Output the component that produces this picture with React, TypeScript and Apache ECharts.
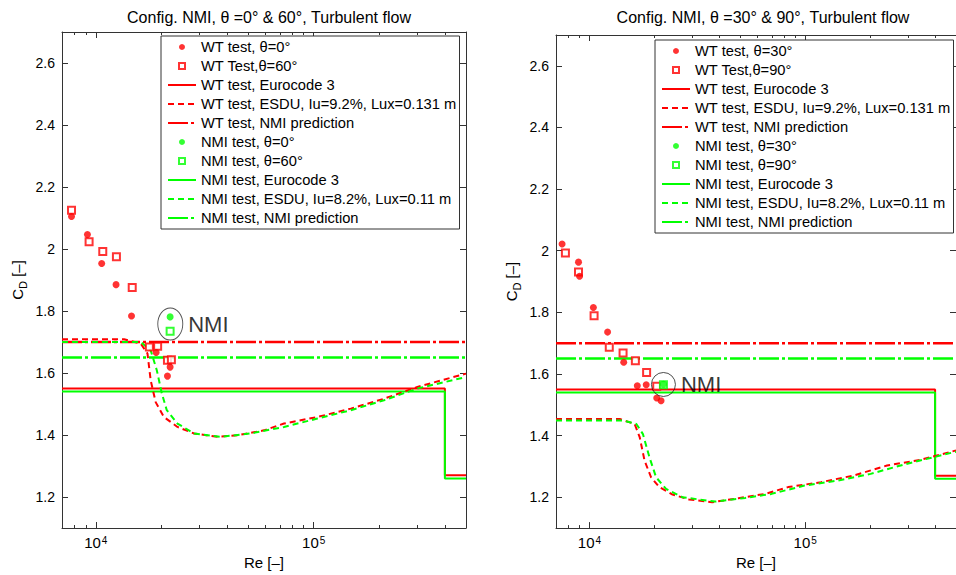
import React, { useEffect, useRef } from 'react';
import * as echarts from 'echarts';

const RED = '#ff0000';
const GREEN = '#00ff00';
const AX = '#333333';
const FONT = '"Liberation Sans", Arial, Helvetica, sans-serif';

const X_MIN = 7000;
const X_MAX = 500000;
const Y_MIN = 1.1;
const Y_MAX = 2.7;
const yTicks = [1.2, 1.4, 1.6, 1.8, 2.0, 2.2, 2.4, 2.6];
const xMajorTicks = [1e4, 1e5];
const xMinorTicks = [8000, 9000, 2e4, 3e4, 4e4, 5e4, 6e4, 7e4, 8e4, 9e4, 2e5, 3e5, 4e5];

// Shared horizontal references
const eurocodeRe = [7000, 400000, 400000, 500000];
const wtEurocodeCd = [1.55, 1.55, 1.27, 1.27];
const nmiEurocodeCd = [1.54, 1.54, 1.26, 1.26];
const predRe = [7000, 500000];
const wtPredCd = [1.70, 1.70];
const nmiPredCd = [1.65, 1.65];

// ---------- Left panel ----------
const leftTitle = 'Config. NMI, θ =0° & 60°, Turbulent flow';
const leftNames = [
  'WT test, θ=0°',
  'WT Test,θ=60°',
  'WT test, Eurocode 3',
  'WT test, ESDU, Iu=9.2%, Lux=0.131 m',
  'WT test, NMI prediction',
  'NMI test, θ=0°',
  'NMI test, θ=60°',
  'NMI test, Eurocode 3',
  'NMI test, ESDU, Iu=8.2%, Lux=0.11 m',
  'NMI test, NMI prediction',
];
const leftWtCircRe = [7740, 9160, 10650, 12390, 14590, 18930, 21940, 21330];
const leftWtCircCd = [2.105, 2.047, 1.953, 1.885, 1.784, 1.666, 1.619, 1.590];
const leftWtSqRe = [7740, 9320, 10770, 12440, 14700, 17620, 19230, 21330, 22240];
const leftWtSqCd = [2.125, 2.023, 1.992, 1.975, 1.876, 1.684, 1.686, 1.641, 1.643];
const leftNmiCircRe = [21940];
const leftNmiCircCd = [1.781];
const leftNmiSqRe = [21940];
const leftNmiSqCd = [1.735];
const leftEsduWtRe = [7000, 13500, 16070, 17270, 17870, 18830, 20540, 23710, 28250, 36140, 44670, 59150, 73100, 104000, 148000, 210200, 299000, 500000];
const leftEsduWtCd = [1.709, 1.709, 1.695, 1.663, 1.576, 1.506, 1.458, 1.426, 1.405, 1.394, 1.399, 1.415, 1.437, 1.458, 1.485, 1.517, 1.555, 1.598];
const leftEsduNmiRe = [7000, 16070, 17870, 19060, 20100, 21180, 23710, 28250, 37410, 51400, 73100, 104000, 148000, 210200, 299000, 500000];
const leftEsduNmiCd = [1.700, 1.700, 1.673, 1.609, 1.534, 1.480, 1.437, 1.405, 1.394, 1.405, 1.426, 1.453, 1.480, 1.512, 1.550, 1.587];
const leftMarkRe = [21980];
const leftMarkCd = [1.758];

// ---------- Right panel ----------
const rightTitle = 'Config. NMI, θ =30° & 90°, Turbulent flow';
const rightNames = [
  'WT test, θ=30°',
  'WT Test,θ=90°',
  'WT test, Eurocode 3',
  'WT test, ESDU, Iu=9.2%, Lux=0.131 m',
  'WT test, NMI prediction',
  'NMI test, θ=30°',
  'NMI test, θ=90°',
  'NMI test, Eurocode 3',
  'NMI test, ESDU, Iu=8.2%, Lux=0.11 m',
  'NMI test, NMI prediction',
];
const rightWtCircRe = [7470, 8900, 9000, 10430, 12140, 14420, 16670, 18330, 20510, 21480];
const rightWtCircCd = [2.022, 1.963, 1.917, 1.816, 1.736, 1.638, 1.562, 1.565, 1.522, 1.513];
const rightWtSqRe = [7740, 8900, 10510, 12360, 14320, 16330, 18410, 20510];
const rightWtSqCd = [1.993, 1.931, 1.789, 1.687, 1.668, 1.643, 1.605, 1.560];
const rightNmiCircRe = [22030];
const rightNmiCircCd = [1.567];
const rightNmiSqRe = [22030];
const rightNmiSqCd = [1.565];
const rightEsduWtRe = [7000, 13830, 16200, 17100, 18010, 19300, 21090, 24270, 28920, 37070, 49100, 65160, 83400, 118400, 168500, 239500, 340000, 500000];
const rightEsduWtCd = [1.454, 1.454, 1.438, 1.395, 1.319, 1.265, 1.233, 1.209, 1.193, 1.184, 1.197, 1.211, 1.233, 1.249, 1.271, 1.303, 1.321, 1.352];
const rightEsduNmiRe = [7000, 14400, 16500, 17700, 18970, 20370, 22650, 26980, 38370, 52700, 69800, 99300, 141300, 201000, 285900, 404000, 500000];
const rightEsduNmiCd = [1.449, 1.449, 1.438, 1.405, 1.330, 1.265, 1.227, 1.200, 1.186, 1.198, 1.211, 1.238, 1.254, 1.276, 1.306, 1.332, 1.348];
const rightMarkRe = [22030];
const rightMarkCd = [1.566];

const zip = (a: number[], b: number[]) => a.map((v, i) => [v, b[i]]);

const ELLIPSE = 'path://M0,-1 A1,1 0 1,1 0,1 A1,1 0 1,1 0,-1 Z';
const SQUARE_ICON = 'path://M0,0 L10,0 L10,10 L0,10 Z';
const DASH = [6, 4];
const DASHDOT = [20, 3, 3, 3];

type Panel = {
  names: string[];
  wtCirc: number[][];
  wtSq: number[][];
  nmiCirc: number[][];
  nmiSq: number[][];
  esduWt: number[][];
  esduNmi: number[][];
  mark: number[][];
  markSize: number[];
};

function panelSeries(g: number, p: Panel) {
  const xi = g * 4;
  const yi = g * 2;
  const line = (name: string, data: number[][], color: string, type: any, width: number) => ({
    type: 'line', name, xAxisIndex: xi, yAxisIndex: yi, data, symbol: 'none', silent: true,
    lineStyle: { color, type, width }, itemStyle: { color }, z: 2,
  });
  const dots = (name: string, data: number[][], color: string) => ({
    type: 'scatter', name, xAxisIndex: xi, yAxisIndex: yi, data, symbol: 'circle', symbolSize: 7, silent: true,
    itemStyle: { color }, z: 4,
  });
  const squares = (name: string, data: number[][], color: string) => ({
    type: 'scatter', name, xAxisIndex: xi, yAxisIndex: yi, data, symbol: 'rect', symbolSize: 7, silent: true,
    itemStyle: { color: '#ffffff', borderColor: color, borderWidth: 2 }, z: 3,
  });
  const n = p.names;
  return [
    line(n[2], zip(eurocodeRe, wtEurocodeCd), RED, 'solid', 2),
    line(n[7], zip(eurocodeRe, nmiEurocodeCd), GREEN, 'solid', 2),
    line(n[4], zip(predRe, wtPredCd), RED, DASHDOT, 2.5),
    line(n[9], zip(predRe, nmiPredCd), GREEN, DASHDOT, 2.5),
    line(n[3], p.esduWt, RED, DASH, 2),
    line(n[8], p.esduNmi, GREEN, DASH, 2),
    squares(n[1], p.wtSq, RED),
    dots(n[0], p.wtCirc, RED),
    squares(n[6], p.nmiSq, GREEN),
    dots(n[5], p.nmiCirc, GREEN),
    {
      type: 'scatter', name: 'NMI', xAxisIndex: xi, yAxisIndex: yi, data: p.mark, silent: true,
      symbol: ELLIPSE, symbolSize: p.markSize, symbolKeepAspect: false, z: 5,
      itemStyle: { color: 'rgba(0,0,0,0)', borderColor: '#222', borderWidth: 1 },
      label: { show: true, position: 'right', distance: 5, formatter: 'NMI', fontSize: 22, color: '#000', fontFamily: FONT },
    },
  ];
}

function xAxes(g: number) {
  const base = (pos: string, ticks: number[], len: number, withLine: boolean, withLabel: boolean) => ({
    type: 'log', logBase: 10, gridIndex: g, position: pos, min: X_MIN, max: X_MAX,
    axisLine: { show: withLine, lineStyle: { color: AX, width: 1 } },
    axisTick: { show: true, inside: true, length: len, customValues: ticks, lineStyle: { color: AX, width: 1 } },
    axisLabel: withLabel
      ? {
          show: true, customValues: xMajorTicks, margin: 7,
          formatter: (v: number) => `{b|10}{s|${Math.round(Math.log10(v))}}`,
          rich: {
            b: { fontSize: 15, fontFamily: FONT, color: '#000' },
            s: { fontSize: 10, fontFamily: FONT, color: '#000', verticalAlign: 'top', padding: [0, 0, 0, 1] },
          },
        }
      : { show: false },
    splitLine: { show: false },
    name: withLabel ? 'Re [–]' : '',
    nameLocation: 'middle', nameGap: 23,
    nameTextStyle: { fontSize: 15, fontFamily: FONT, color: '#000' },
  });
  return [
    base('bottom', xMajorTicks, 6, true, true),
    base('bottom', xMinorTicks, 3, false, false),
    base('top', xMajorTicks, 6, true, false),
    base('top', xMinorTicks, 3, false, false),
  ];
}

function yAxes(g: number) {
  const base = (pos: string, withLabel: boolean) => ({
    type: 'value', gridIndex: g, position: pos, min: Y_MIN, max: Y_MAX,
    axisLine: { show: true, lineStyle: { color: AX, width: 1 } },
    axisTick: { show: true, inside: true, length: 6, customValues: yTicks, lineStyle: { color: AX, width: 1 } },
    axisLabel: withLabel
      ? {
          show: true, customValues: yTicks, margin: 7, fontSize: 14, fontFamily: FONT, color: '#000',
          formatter: (v: number) => String(parseFloat(v.toFixed(1))),
        }
      : { show: false },
    splitLine: { show: false },
    name: withLabel ? '{c|C}{d|D}{c| [–]}' : '',
    nameLocation: 'middle', nameGap: 34, nameRotate: 90,
    nameTextStyle: {
      rich: {
        c: { fontSize: 15, fontFamily: FONT, color: '#000', verticalAlign: 'top', lineHeight: 18 },
        d: { fontSize: 11, fontFamily: FONT, color: '#000', verticalAlign: 'bottom', lineHeight: 12, padding: [9, 0, 0, 0] },
      },
    },
  });
  return [base('left', true), base('right', false)];
}

function legendFor(names: string[], left: number, top: number) {
  const isLine = [false, false, true, true, true, false, false, true, true, true];
  const isSquare = [false, true, false, false, false, false, true, false, false, false];
  return {
    orient: 'vertical', left, top, selectedMode: false,
    itemWidth: 28, itemHeight: 6, itemGap: 3,
    symbolKeepAspect: true,
    padding: [3, 3, 3, 6],
    borderColor: '#333', borderWidth: 1, backgroundColor: '#ffffff',
    textStyle: { fontSize: 14.7, fontFamily: FONT, color: '#000', lineHeight: 16 },
    data: names.map((name, i) =>
      isLine[i]
        ? { name, itemStyle: { opacity: 0 } }
        : isSquare[i]
          ? { name, icon: SQUARE_ICON }
          : { name, icon: 'circle' },
    ),
  };
}

function buildOption() {
  const left: Panel = {
    names: leftNames,
    wtCirc: zip(leftWtCircRe, leftWtCircCd),
    wtSq: zip(leftWtSqRe, leftWtSqCd),
    nmiCirc: zip(leftNmiCircRe, leftNmiCircCd),
    nmiSq: zip(leftNmiSqRe, leftNmiSqCd),
    esduWt: zip(leftEsduWtRe, leftEsduWtCd),
    esduNmi: zip(leftEsduNmiRe, leftEsduNmiCd),
    mark: zip(leftMarkRe, leftMarkCd),
    markSize: [25, 32],
  };
  const right: Panel = {
    names: rightNames,
    wtCirc: zip(rightWtCircRe, rightWtCircCd),
    wtSq: zip(rightWtSqRe, rightWtSqCd),
    nmiCirc: zip(rightNmiCircRe, rightNmiCircCd),
    nmiSq: zip(rightNmiSqRe, rightNmiSqCd),
    esduWt: zip(rightEsduWtRe, rightEsduWtCd),
    esduNmi: zip(rightEsduNmiRe, rightEsduNmiCd),
    mark: zip(rightMarkRe, rightMarkCd),
    markSize: [24, 24],
  };
  const titleStyle = { fontSize: 16, fontWeight: 'normal', color: '#000', fontFamily: FONT };
  return {
    animation: false,
    backgroundColor: '#ffffff',
    title: [
      { text: leftTitle, left: 264, top: 4, textAlign: 'center', textStyle: titleStyle },
      { text: rightTitle, left: 758, top: 4, textAlign: 'center', textStyle: titleStyle },
    ],
    grid: [
      { left: 62, right: 490, top: 32, bottom: 47 },
      { left: 556, right: -3, top: 35, bottom: 44 },
    ],
    xAxis: [...xAxes(0), ...xAxes(1)],
    yAxis: [...yAxes(0), ...yAxes(1)],
    legend: [legendFor(leftNames, 161, 36), legendFor(rightNames, 655, 40)],
    series: [...panelSeries(0, left), ...panelSeries(1, right)],
  };
}

export default function App() {
  const ref = useRef<HTMLDivElement>(null);
  useEffect(() => {
    const chart = echarts.init(ref.current!, null, { renderer: 'svg' });
    chart.setOption(buildOption() as any);
    return () => chart.dispose();
  }, []);
  return (
    <div
      ref={ref}
      style={{ position: 'absolute', left: 0, top: 0, width: 956, height: 575, background: '#fff' }}
    />
  );
}
